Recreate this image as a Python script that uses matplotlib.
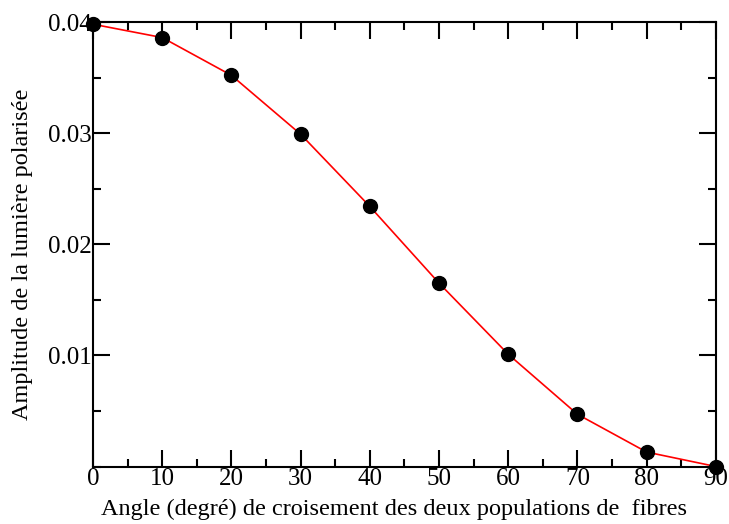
import matplotlib
matplotlib.use("Agg")
import matplotlib.pyplot as plt
from matplotlib.ticker import MultipleLocator

angles = [0, 10, 20, 30, 40, 50, 60, 70, 80, 90]
amplitude = [0.0398, 0.0386, 0.0352, 0.0299, 0.0234, 0.0165, 0.0101, 0.0047, 0.0013, 0.0000]
xticks = [0, 10, 20, 30, 40, 50, 60, 70, 80, 90]
yticks = [0.01, 0.02, 0.03, 0.04]
ytick_labels = ["0.01", "0.02", "0.03", "0.04"]

plt.rcParams['font.family'] = ['Liberation Serif', 'DejaVu Serif']

fig = plt.figure(figsize=(7.29, 5.24), dpi=100)
ax = fig.add_axes([0.1276, 0.1097, 0.8544, 0.8483])

ax.plot(angles, amplitude, color='red', lw=1.2, zorder=2, clip_on=False)
ax.plot(angles, amplitude, 'o', color='black', ms=10, zorder=3, clip_on=False)

ax.set_xlim(0, 90)
ax.set_ylim(0, 0.04)
ax.set_xticks(xticks)
ax.set_xticklabels([str(t) for t in xticks])
ax.set_yticks(yticks)
ax.set_yticklabels(ytick_labels)
ax.xaxis.set_minor_locator(MultipleLocator(5))
ax.yaxis.set_minor_locator(MultipleLocator(0.005))

ax.tick_params(which='both', direction='in', top=True, right=True, width=1.5,
               labelsize=18, pad=1)
ax.tick_params(which='major', length=12)
ax.tick_params(which='minor', length=6)
for s in ax.spines.values():
    s.set_linewidth(1.5)

ax.set_xlabel("Angle (degré) de croisement des deux populations de  fibres", fontsize=17.5)
ax.set_ylabel("Amplitude de la lumière polarisée", fontsize=17.5)
ax.xaxis.set_label_coords(0.484, -0.0956)
ax.xaxis.label.set_va('center')
ax.yaxis.set_label_coords(-0.114, 0.478)
ax.yaxis.label.set_va('center')

fig.savefig("out.png", dpi=100)
